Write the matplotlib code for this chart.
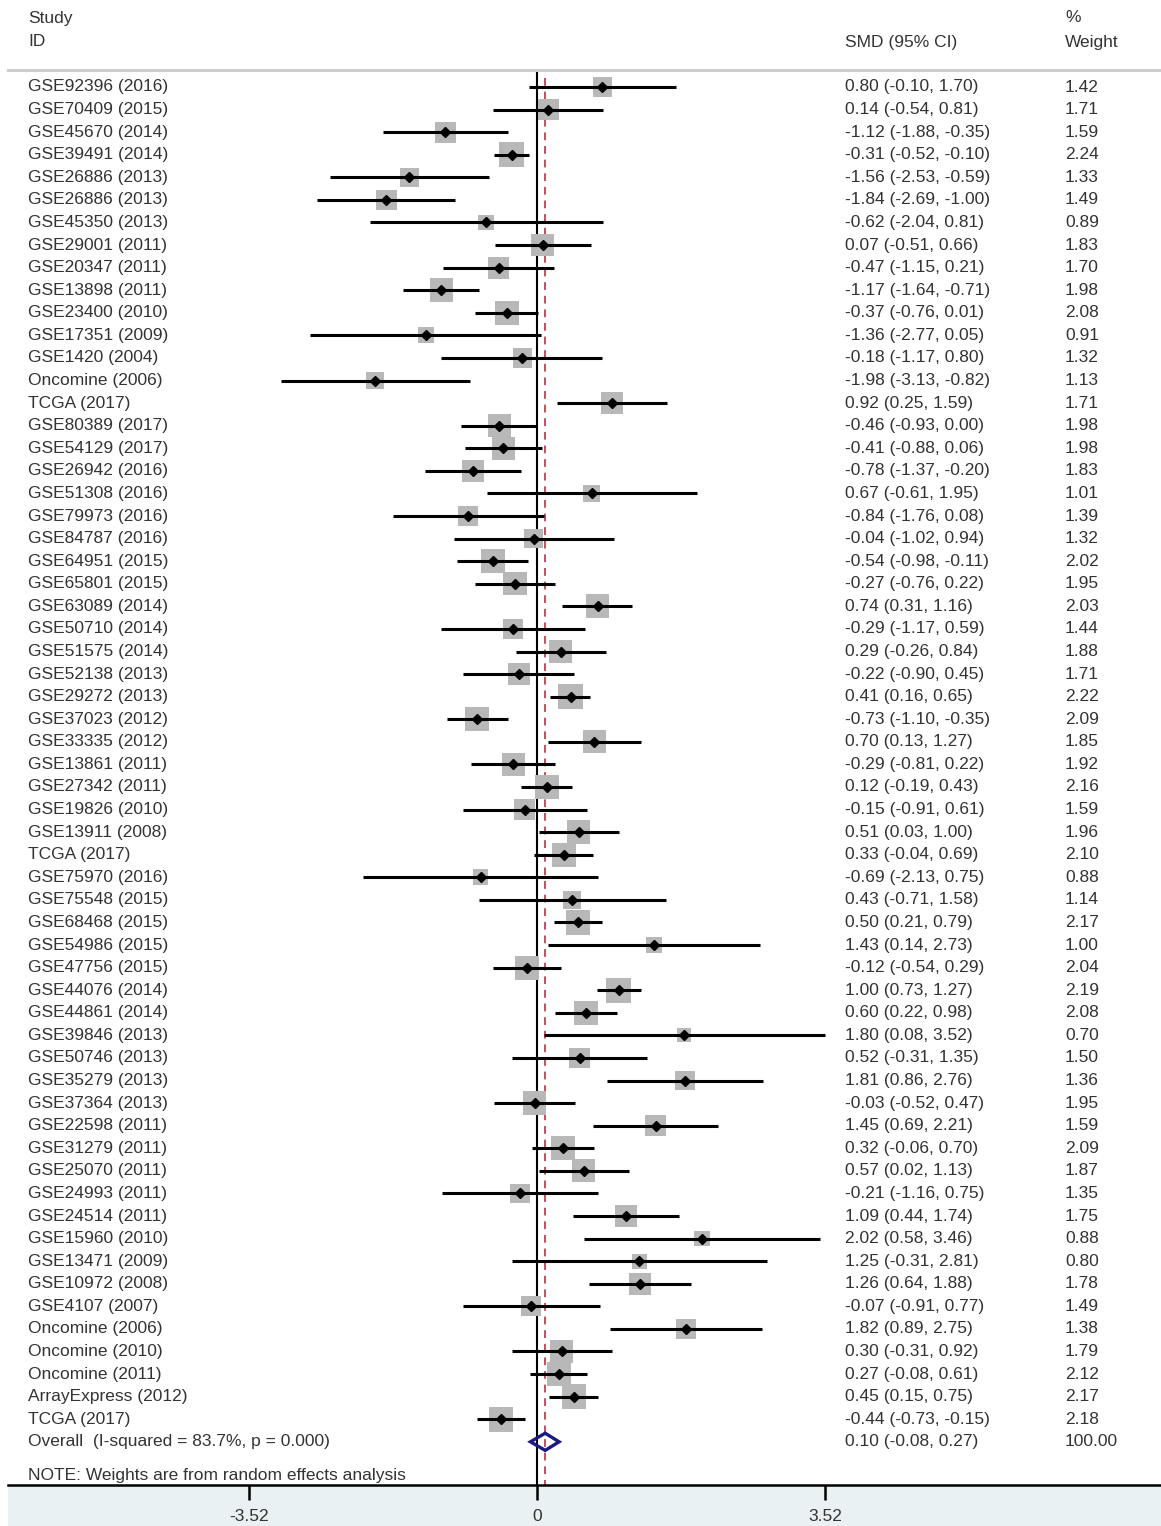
import numpy as np
import matplotlib.pyplot as plt
from matplotlib.patches import Polygon

plt.rcParams['font.family'] = ['Liberation Sans', 'DejaVu Sans']
plt.rcParams['axes.unicode_minus'] = False

# study data
studies = [
    'GSE92396 (2016)', 'GSE70409 (2015)', 'GSE45670 (2014)', 'GSE39491 (2014)',
    'GSE26886 (2013)', 'GSE26886 (2013)', 'GSE45350 (2013)', 'GSE29001 (2011)',
    'GSE20347 (2011)', 'GSE13898 (2011)', 'GSE23400 (2010)', 'GSE17351 (2009)',
    'GSE1420 (2004)', 'Oncomine (2006)', 'TCGA (2017)', 'GSE80389 (2017)',
    'GSE54129 (2017)', 'GSE26942 (2016)', 'GSE51308 (2016)', 'GSE79973 (2016)',
    'GSE84787 (2016)', 'GSE64951 (2015)', 'GSE65801 (2015)', 'GSE63089 (2014)',
    'GSE50710 (2014)', 'GSE51575 (2014)', 'GSE52138 (2013)', 'GSE29272 (2013)',
    'GSE37023 (2012)', 'GSE33335 (2012)', 'GSE13861 (2011)', 'GSE27342 (2011)',
    'GSE19826 (2010)', 'GSE13911 (2008)', 'TCGA (2017)', 'GSE75970 (2016)',
    'GSE75548 (2015)', 'GSE68468 (2015)', 'GSE54986 (2015)', 'GSE47756 (2015)',
    'GSE44076 (2014)', 'GSE44861 (2014)', 'GSE39846 (2013)', 'GSE50746 (2013)',
    'GSE35279 (2013)', 'GSE37364 (2013)', 'GSE22598 (2011)', 'GSE31279 (2011)',
    'GSE25070 (2011)', 'GSE24993 (2011)', 'GSE24514 (2011)', 'GSE15960 (2010)',
    'GSE13471 (2009)', 'GSE10972 (2008)', 'GSE4107 (2007)', 'Oncomine (2006)',
    'Oncomine (2010)', 'Oncomine (2011)', 'ArrayExpress (2012)', 'TCGA (2017)',
]
smd = [0.80, 0.14, -1.12, -0.31, -1.56, -1.84, -0.62, 0.07, -0.47, -1.17,
       -0.37, -1.36, -0.18, -1.98, 0.92, -0.46, -0.41, -0.78, 0.67, -0.84,
       -0.04, -0.54, -0.27, 0.74, -0.29, 0.29, -0.22, 0.41, -0.73, 0.70,
       -0.29, 0.12, -0.15, 0.51, 0.33, -0.69, 0.43, 0.50, 1.43, -0.12,
       1.00, 0.60, 1.80, 0.52, 1.81, -0.03, 1.45, 0.32, 0.57, -0.21,
       1.09, 2.02, 1.25, 1.26, -0.07, 1.82, 0.30, 0.27, 0.45, -0.44]
lower = [-0.10, -0.54, -1.88, -0.52, -2.53, -2.69, -2.04, -0.51, -1.15, -1.64,
         -0.76, -2.77, -1.17, -3.13, 0.25, -0.93, -0.88, -1.37, -0.61, -1.76,
         -1.02, -0.98, -0.76, 0.31, -1.17, -0.26, -0.90, 0.16, -1.10, 0.13,
         -0.81, -0.19, -0.91, 0.03, -0.04, -2.13, -0.71, 0.21, 0.14, -0.54,
         0.73, 0.22, 0.08, -0.31, 0.86, -0.52, 0.69, -0.06, 0.02, -1.16,
         0.44, 0.58, -0.31, 0.64, -0.91, 0.89, -0.31, -0.08, 0.15, -0.73]
upper = [1.70, 0.81, -0.35, -0.10, -0.59, -1.00, 0.81, 0.66, 0.21, -0.71,
         0.01, 0.05, 0.80, -0.82, 1.59, 0.00, 0.06, -0.20, 1.95, 0.08,
         0.94, -0.11, 0.22, 1.16, 0.59, 0.84, 0.45, 0.65, -0.35, 1.27,
         0.22, 0.43, 0.61, 1.00, 0.69, 0.75, 1.58, 0.79, 2.73, 0.29,
         1.27, 0.98, 3.52, 1.35, 2.76, 0.47, 2.21, 0.70, 1.13, 0.75,
         1.74, 3.46, 2.81, 1.88, 0.77, 2.75, 0.92, 0.61, 0.75, -0.15]
weight = [1.42, 1.71, 1.59, 2.24, 1.33, 1.49, 0.89, 1.83, 1.70, 1.98,
          2.08, 0.91, 1.32, 1.13, 1.71, 1.98, 1.98, 1.83, 1.01, 1.39,
          1.32, 2.02, 1.95, 2.03, 1.44, 1.88, 1.71, 2.22, 2.09, 1.85,
          1.92, 2.16, 1.59, 1.96, 2.10, 0.88, 1.14, 2.17, 1.00, 2.04,
          2.19, 2.08, 0.70, 1.50, 1.36, 1.95, 1.59, 2.09, 1.87, 1.35,
          1.75, 0.88, 0.80, 1.78, 1.49, 1.38, 1.79, 2.12, 2.17, 2.18]
overall_label = 'Overall  (I-squared = 83.7%, p = 0.000)'
overall = (0.10, -0.08, 0.27)
xticks = [-3.52, 0, 3.52]

W, H = 1161, 1526
fig = plt.figure(figsize=(W / 100, H / 100), dpi=100)
ax = fig.add_axes([0, 0, 1, 1])

# scale: 0 at 537 px, 3.52 at 825 px; row 1 at 87 px, 22.58 px per row
pxu = (825 - 537) / 3.52
ax.set_xlim(-537 / pxu, (W - 537) / pxu)
rowh = 22.58
ax.set_ylim(1 + (H - 87) / rowh, 1 - 87 / rowh)

def ypix(p):
    return 1 + (p - 87) / rowh

n = len(studies)
rows = np.arange(1, n + 1)
orow = n + 1
axis_y = ypix(1485)
tc = '#333333'
fs = 12.5

# background band under the axis and top rule
ax.axhspan(axis_y, ypix(H), xmin=8 / W, color='#eaf1f3', zorder=0, lw=0)
ax.axhline(ypix(70), xmin=8 / W, color='#cdcdcd', lw=2.2, zorder=1)

# reference line and overall line
ax.vlines(0, ypix(72), axis_y, color='black', lw=1.5, zorder=1)
ax.vlines(overall[0], ypix(78), axis_y, color='#c0505a', lw=1.4,
          linestyles=(0, (4, 3)), zorder=1.5)

# weight boxes, CI lines, point estimates
ax.scatter(smd, rows, s=np.array(weight) * 144, marker='s', color='#b8b8b8',
           lw=0, zorder=2)
ax.hlines(rows, lower, upper, color='black', lw=2.2, zorder=3)
ax.plot(smd, rows, 'D', color='black', ms=5.5, zorder=4)

# overall diamond
est, lo, hi = overall
dh = 0.38
ax.add_patch(Polygon([(lo, orow), (est, orow - dh), (hi, orow), (est, orow + dh)],
                     closed=True, fill=False, ec='#1a1a80', lw=2.4, zorder=5))

# text columns
tr = ax.get_yaxis_transform()
x_id, x_ci, x_w = 28 / W, 845 / W, 1065 / W
for r, s, m, l, u, w in zip(rows, studies, smd, lower, upper, weight):
    ax.text(x_id, r, s, transform=tr, fontsize=fs, color=tc, va='center')
    ax.text(x_ci, r, f'{m:.2f} ({l:.2f}, {u:.2f})', transform=tr,
            fontsize=fs, color=tc, va='center')
    ax.text(x_w, r, f'{w:.2f}', transform=tr, fontsize=fs, color=tc, va='center')
ax.text(x_id, orow, overall_label, transform=tr, fontsize=fs, color=tc, va='center')
ax.text(x_ci, orow, f'{est:.2f} ({lo:.2f}, {hi:.2f})', transform=tr,
        fontsize=fs, color=tc, va='center')
ax.text(x_w, orow, '100.00', transform=tr, fontsize=fs, color=tc, va='center')

ax.text(x_id, ypix(18), 'Study', transform=tr, fontsize=fs, color=tc, va='center')
ax.text(x_id, ypix(42), 'ID', transform=tr, fontsize=fs, color=tc, va='center')
ax.text(x_ci, ypix(42), 'SMD (95% CI)', transform=tr, fontsize=fs, color=tc, va='center')
ax.text(x_w, ypix(18), '%', transform=tr, fontsize=fs, color=tc, va='center')
ax.text(x_w, ypix(42), 'Weight', transform=tr, fontsize=fs, color=tc, va='center')
ax.text(x_id, ypix(1475), 'NOTE: Weights are from random effects analysis',
        transform=tr, fontsize=fs, color=tc, va='center')

# x axis
for side in ['top', 'right', 'left']:
    ax.spines[side].set_visible(False)
ax.spines['bottom'].set_position(('data', axis_y))
ax.spines['bottom'].set_linewidth(1.8)
ax.spines['bottom'].set_bounds(ax.get_xlim()[0] + 8 / pxu, ax.get_xlim()[1])
ax.set_xticks(xticks, [f'{t:g}' for t in xticks])
ax.tick_params(axis='x', direction='out', length=11, width=1.8, pad=6,
               labelsize=fs, labelcolor=tc)
ax.set_yticks([])
ax.patch.set_alpha(0)

fig.savefig('out.png', dpi=100)
